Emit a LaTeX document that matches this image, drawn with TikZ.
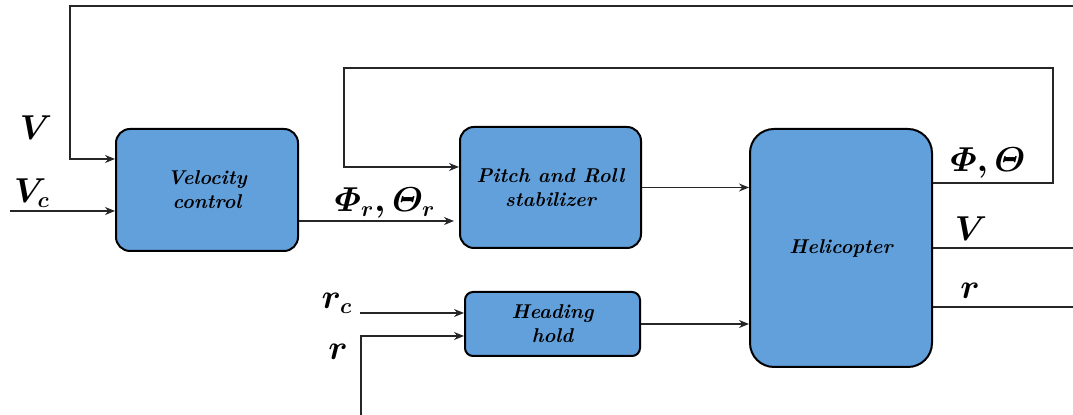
\documentclass[tikz,border=0pt]{standalone}
\usepackage{amsmath, amssymb}
\usepackage{tikz}
\usepackage{xcolor}
\usetikzlibrary{arrows.meta, positioning, calc}
\definecolor{boxBlue}{RGB}{98,160,220}
\tikzset{
    blockBox/.style={draw=black, fill=boxBlue, line width=1pt, align=center, font=\bfseries\itshape},
    sigLine/.style={line width=0.65pt, black!85},
    sigLabel/.style={font=\fontsize{16}{19}\selectfont, inner sep=0pt}
}

\begin{document}
\begin{tikzpicture}[x=0.5pt, y=-0.5pt, >={Stealth[length=5pt, width=4pt]}]
    \useasboundingbox (0,0) rectangle (1073,415);
    % --- Blocks ---
    \node[blockBox, rounded corners=7pt, minimum width=91pt, minimum height=61pt] (vel) at (207,190) {Velocity\\control};
    \node[blockBox, rounded corners=7pt, minimum width=90.5pt, minimum height=60.5pt] (pitch) at (550.5,187.5) {Pitch and Roll\\stabilizer};
    \node[blockBox, rounded corners=4pt, minimum width=87.5pt, minimum height=32pt, inner sep=1pt] (head) at (552.5,324) {Heading\\hold};
    \node[blockBox, rounded corners=12pt, minimum width=91pt, minimum height=119pt] (heli) at (841,248) {Helicopter};
    % --- Labels ---
    \node[sigLabel] (lblV) at (36,128) {$\boldsymbol{V}$};
    \node[sigLabel] (lblVc) at (32,193) {$\boldsymbol{V_c}$};
    \node[sigLabel] (lblRef) at (385,203) {$\boldsymbol{\varPhi_r,\varTheta_r}$};
    \node[sigLabel] (lblAtt) at (988,163) {$\boldsymbol{\varPhi,\varTheta}$};
    \node[sigLabel] (lblVo) at (971,229) {$\boldsymbol{V}$};
    \node[sigLabel] (lblRo) at (970,291) {$\boldsymbol{r}$};
    \node[sigLabel] (lblRc) at (337,303) {$\boldsymbol{r_c}$};
    \node[sigLabel] (lblR) at (338,352) {$\boldsymbol{r}$};
    % --- Coordinates ---
    \coordinate (vcIn) at (10,211);
    \coordinate (vTopR) at (1073,6); \coordinate (vTop) at (70,6); \coordinate (vFb) at (70,159);
    \coordinate (refY) at (300,221);
    \coordinate (attOut) at (1053,183); \coordinate (attTopR) at (1053,68);
    \coordinate (attTop) at (344,68); \coordinate (attFb) at (344,167);
    \coordinate (rcIn) at (360,313);
    \coordinate (rBot) at (361,415); \coordinate (rIn) at (361,336);
    \coordinate (vOut) at (1073,248); \coordinate (rOut) at (1073,307);
    % --- Connectors ---
    \draw[sigLine,->] (vcIn) -- (vel.west |- vcIn);
    \draw[sigLine,->] (vTopR) -- (vTop) -- (vFb) -- (vel.west |- vFb);
    \draw[sigLine,->] (vel.east |- refY) -- ([xshift=-2.5pt]pitch.west |- refY);
    \draw[sigLine,->] (heli.east |- attOut) -- (attOut) -- (attTopR) -- (attTop) -- (attFb) -- (pitch.west |- attFb);
    \draw[sigLine,->] (pitch.east) -- (heli.west |- pitch.east);
    \draw[sigLine,->] (head.east) -- (heli.west |- head.east);
    \draw[sigLine,->] (rcIn) -- (head.west |- rcIn);
    \draw[sigLine,->] (rBot) -- (rIn) -- (head.west |- rIn);
    \draw[sigLine] (heli.east |- vOut) -- (vOut);
    \draw[sigLine] (heli.east |- rOut) -- (rOut);
\end{tikzpicture}
\end{document}
